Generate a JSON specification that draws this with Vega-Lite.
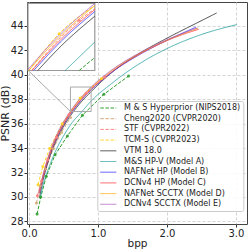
{
  "$schema": "https://vega.github.io/schema/vega-lite/v6.json",
  "width": 220,
  "height": 222,
  "autosize": {"type": "none"},
  "padding": {"left": 27, "top": 2, "right": 2, "bottom": 25},
  "background": "white",
  "config": {
    "font": "DejaVu Sans",
    "view": {"stroke": "#444444", "strokeWidth": 1},
    "axis": {"labelFontSize": 10, "titleFontSize": 11, "labelColor": "#222222", "titleColor": "#222222", "tickColor": "#333333", "domain": false, "tickSize": 3, "labelPadding": 1, "titlePadding": 0, "labelOverlap": false, "gridColor": "#d4d4d4", "gridDash": [3, 2], "titleFontWeight": "normal"},
    "axisX": {"titleFontSize": 10.5},
    "axisY": {"titlePadding": 0, "labelOverlap": false},
    "axisLeft": {"labelOverlap": false}
  },
  "datasets": {
    "curves": [
      {"series": "M & S Hyperprior (NIPS2018)", "bpp": 0.116, "psnr": 28.6},
      {"series": "M & S Hyperprior (NIPS2018)", "bpp": 0.17, "psnr": 30.0},
      {"series": "M & S Hyperprior (NIPS2018)", "bpp": 0.25, "psnr": 31.7},
      {"series": "M & S Hyperprior (NIPS2018)", "bpp": 0.377, "psnr": 33.45},
      {"series": "M & S Hyperprior (NIPS2018)", "bpp": 0.556, "psnr": 35.0},
      {"series": "M & S Hyperprior (NIPS2018)", "bpp": 0.774, "psnr": 36.7},
      {"series": "M & S Hyperprior (NIPS2018)", "bpp": 1.084, "psnr": 38.4},
      {"series": "M & S Hyperprior (NIPS2018)", "bpp": 1.442, "psnr": 39.9},
      {"series": "Cheng2020 (CVPR2020)", "bpp": 0.107, "psnr": 29.5},
      {"series": "Cheng2020 (CVPR2020)", "bpp": 0.16, "psnr": 30.9},
      {"series": "Cheng2020 (CVPR2020)", "bpp": 0.24, "psnr": 32.3},
      {"series": "Cheng2020 (CVPR2020)", "bpp": 0.35, "psnr": 33.95},
      {"series": "Cheng2020 (CVPR2020)", "bpp": 0.47, "psnr": 35.3},
      {"series": "Cheng2020 (CVPR2020)", "bpp": 0.6, "psnr": 36.5},
      {"series": "STF (CVPR2022)", "bpp": 0.12, "psnr": 30.1},
      {"series": "STF (CVPR2022)", "bpp": 0.18, "psnr": 31.3},
      {"series": "STF (CVPR2022)", "bpp": 0.27, "psnr": 33.05},
      {"series": "STF (CVPR2022)", "bpp": 0.4, "psnr": 34.9},
      {"series": "STF (CVPR2022)", "bpp": 0.58, "psnr": 36.75},
      {"series": "STF (CVPR2022)", "bpp": 0.83, "psnr": 38.5},
      {"series": "STF (CVPR2022)", "bpp": 1.1, "psnr": 39.8},
      {"series": "TCM-S (CVPR2023)", "bpp": 0.13, "psnr": 31.0},
      {"series": "TCM-S (CVPR2023)", "bpp": 0.2, "psnr": 32.5},
      {"series": "TCM-S (CVPR2023)", "bpp": 0.3, "psnr": 34.0},
      {"series": "TCM-S (CVPR2023)", "bpp": 0.48, "psnr": 36.0},
      {"series": "TCM-S (CVPR2023)", "bpp": 0.74, "psnr": 38.1},
      {"series": "TCM-S (CVPR2023)", "bpp": 1.05, "psnr": 39.7},
      {"series": "VTM 18.0", "bpp": 0.15, "psnr": 29.9},
      {"series": "VTM 18.0", "bpp": 0.2, "psnr": 31.3},
      {"series": "VTM 18.0", "bpp": 0.3, "psnr": 33.29},
      {"series": "VTM 18.0", "bpp": 0.4, "psnr": 34.69},
      {"series": "VTM 18.0", "bpp": 0.5, "psnr": 35.77},
      {"series": "VTM 18.0", "bpp": 0.6, "psnr": 36.65},
      {"series": "VTM 18.0", "bpp": 0.75, "psnr": 37.74},
      {"series": "VTM 18.0", "bpp": 0.9, "psnr": 38.62},
      {"series": "VTM 18.0", "bpp": 1.2, "psnr": 40.2},
      {"series": "VTM 18.0", "bpp": 1.6, "psnr": 41.75},
      {"series": "VTM 18.0", "bpp": 2.0, "psnr": 43.0},
      {"series": "VTM 18.0", "bpp": 2.4, "psnr": 44.15},
      {"series": "VTM 18.0", "bpp": 2.72, "psnr": 45.06},
      {"series": "M&S HP-V (Model A)", "bpp": 0.16, "psnr": 29.9},
      {"series": "M&S HP-V (Model A)", "bpp": 0.2, "psnr": 30.9},
      {"series": "M&S HP-V (Model A)", "bpp": 0.3, "psnr": 32.6},
      {"series": "M&S HP-V (Model A)", "bpp": 0.4, "psnr": 33.95},
      {"series": "M&S HP-V (Model A)", "bpp": 0.5, "psnr": 35.0},
      {"series": "M&S HP-V (Model A)", "bpp": 0.6, "psnr": 35.9},
      {"series": "M&S HP-V (Model A)", "bpp": 0.767, "psnr": 37.0},
      {"series": "M&S HP-V (Model A)", "bpp": 0.9, "psnr": 37.85},
      {"series": "M&S HP-V (Model A)", "bpp": 1.2, "psnr": 39.3},
      {"series": "M&S HP-V (Model A)", "bpp": 1.437, "psnr": 40.3},
      {"series": "M&S HP-V (Model A)", "bpp": 1.7, "psnr": 41.25},
      {"series": "M&S HP-V (Model A)", "bpp": 2.0, "psnr": 42.15},
      {"series": "M&S HP-V (Model A)", "bpp": 2.5, "psnr": 43.3},
      {"series": "M&S HP-V (Model A)", "bpp": 3.01, "psnr": 44.11},
      {"series": "NAFNet HP (Model B)", "bpp": 0.15, "psnr": 30.3},
      {"series": "NAFNet HP (Model B)", "bpp": 0.2, "psnr": 31.51},
      {"series": "NAFNet HP (Model B)", "bpp": 0.3, "psnr": 33.43},
      {"series": "NAFNet HP (Model B)", "bpp": 0.4, "psnr": 34.83},
      {"series": "NAFNet HP (Model B)", "bpp": 0.5, "psnr": 35.91},
      {"series": "NAFNet HP (Model B)", "bpp": 0.6, "psnr": 36.79},
      {"series": "NAFNet HP (Model B)", "bpp": 0.75, "psnr": 37.88},
      {"series": "NAFNet HP (Model B)", "bpp": 0.9, "psnr": 38.76},
      {"series": "NAFNet HP (Model B)", "bpp": 1.2, "psnr": 40.2},
      {"series": "NAFNet HP (Model B)", "bpp": 1.6, "psnr": 41.65},
      {"series": "NAFNet HP (Model B)", "bpp": 2.0, "psnr": 42.82},
      {"series": "NAFNet HP (Model B)", "bpp": 2.42, "psnr": 43.9},
      {"series": "DCNv4 HP (Model C)", "bpp": 0.15, "psnr": 30.35},
      {"series": "DCNv4 HP (Model C)", "bpp": 0.2, "psnr": 31.57},
      {"series": "DCNv4 HP (Model C)", "bpp": 0.3, "psnr": 33.49},
      {"series": "DCNv4 HP (Model C)", "bpp": 0.4, "psnr": 34.89},
      {"series": "DCNv4 HP (Model C)", "bpp": 0.5, "psnr": 35.97},
      {"series": "DCNv4 HP (Model C)", "bpp": 0.6, "psnr": 36.85},
      {"series": "DCNv4 HP (Model C)", "bpp": 0.75, "psnr": 37.94},
      {"series": "DCNv4 HP (Model C)", "bpp": 0.9, "psnr": 38.82},
      {"series": "DCNv4 HP (Model C)", "bpp": 1.2, "psnr": 40.25},
      {"series": "DCNv4 HP (Model C)", "bpp": 1.6, "psnr": 41.68},
      {"series": "DCNv4 HP (Model C)", "bpp": 2.0, "psnr": 42.8},
      {"series": "DCNv4 HP (Model C)", "bpp": 2.46, "psnr": 43.73},
      {"series": "NAFNet SCCTX (Model D)", "bpp": 0.145, "psnr": 30.3},
      {"series": "NAFNet SCCTX (Model D)", "bpp": 0.2, "psnr": 31.69},
      {"series": "NAFNet SCCTX (Model D)", "bpp": 0.3, "psnr": 33.61},
      {"series": "NAFNet SCCTX (Model D)", "bpp": 0.4, "psnr": 35.01},
      {"series": "NAFNet SCCTX (Model D)", "bpp": 0.5, "psnr": 36.09},
      {"series": "NAFNet SCCTX (Model D)", "bpp": 0.6, "psnr": 36.97},
      {"series": "NAFNet SCCTX (Model D)", "bpp": 0.75, "psnr": 38.06},
      {"series": "NAFNet SCCTX (Model D)", "bpp": 0.9, "psnr": 38.94},
      {"series": "NAFNet SCCTX (Model D)", "bpp": 1.2, "psnr": 40.35},
      {"series": "NAFNet SCCTX (Model D)", "bpp": 1.6, "psnr": 41.75},
      {"series": "NAFNet SCCTX (Model D)", "bpp": 2.0, "psnr": 42.84},
      {"series": "NAFNet SCCTX (Model D)", "bpp": 2.45, "psnr": 43.82},
      {"series": "DCNv4 SCCTX (Model E)", "bpp": 0.145, "psnr": 30.35},
      {"series": "DCNv4 SCCTX (Model E)", "bpp": 0.2, "psnr": 31.75},
      {"series": "DCNv4 SCCTX (Model E)", "bpp": 0.3, "psnr": 33.67},
      {"series": "DCNv4 SCCTX (Model E)", "bpp": 0.4, "psnr": 35.07},
      {"series": "DCNv4 SCCTX (Model E)", "bpp": 0.5, "psnr": 36.15},
      {"series": "DCNv4 SCCTX (Model E)", "bpp": 0.6, "psnr": 37.03},
      {"series": "DCNv4 SCCTX (Model E)", "bpp": 0.75, "psnr": 38.12},
      {"series": "DCNv4 SCCTX (Model E)", "bpp": 0.9, "psnr": 39.0},
      {"series": "DCNv4 SCCTX (Model E)", "bpp": 1.2, "psnr": 40.4},
      {"series": "DCNv4 SCCTX (Model E)", "bpp": 1.6, "psnr": 41.79},
      {"series": "DCNv4 SCCTX (Model E)", "bpp": 2.0, "psnr": 42.87},
      {"series": "DCNv4 SCCTX (Model E)", "bpp": 2.44, "psnr": 43.84}
    ],
    "inset": [
      {"series": "M & S Hyperprior (NIPS2018)", "bpp": 0.83, "psnr": 37.0},
      {"series": "M & S Hyperprior (NIPS2018)", "bpp": 0.9, "psnr": 37.39},
      {"series": "STF (CVPR2022)", "bpp": 0.616, "psnr": 37.0},
      {"series": "STF (CVPR2022)", "bpp": 0.83, "psnr": 38.5},
      {"series": "STF (CVPR2022)", "bpp": 0.9, "psnr": 38.84},
      {"series": "TCM-S (CVPR2023)", "bpp": 0.604, "psnr": 37.0},
      {"series": "TCM-S (CVPR2023)", "bpp": 0.74, "psnr": 38.1},
      {"series": "TCM-S (CVPR2023)", "bpp": 0.9, "psnr": 38.93},
      {"series": "VTM 18.0", "bpp": 0.644, "psnr": 37.0},
      {"series": "VTM 18.0", "bpp": 0.75, "psnr": 37.74},
      {"series": "VTM 18.0", "bpp": 0.9, "psnr": 38.62},
      {"series": "M&S HP-V (Model A)", "bpp": 0.767, "psnr": 37.0},
      {"series": "M&S HP-V (Model A)", "bpp": 0.9, "psnr": 37.85},
      {"series": "NAFNet HP (Model B)", "bpp": 0.626, "psnr": 37.0},
      {"series": "NAFNet HP (Model B)", "bpp": 0.75, "psnr": 37.88},
      {"series": "NAFNet HP (Model B)", "bpp": 0.9, "psnr": 38.76},
      {"series": "DCNv4 HP (Model C)", "bpp": 0.618, "psnr": 37.0},
      {"series": "DCNv4 HP (Model C)", "bpp": 0.75, "psnr": 37.94},
      {"series": "DCNv4 HP (Model C)", "bpp": 0.9, "psnr": 38.82},
      {"series": "NAFNet SCCTX (Model D)", "bpp": 0.603, "psnr": 37.0},
      {"series": "NAFNet SCCTX (Model D)", "bpp": 0.75, "psnr": 38.06},
      {"series": "NAFNet SCCTX (Model D)", "bpp": 0.9, "psnr": 38.94},
      {"series": "DCNv4 SCCTX (Model E)", "bpp": 0.6, "psnr": 37.03},
      {"series": "DCNv4 SCCTX (Model E)", "bpp": 0.75, "psnr": 38.12},
      {"series": "DCNv4 SCCTX (Model E)", "bpp": 0.9, "psnr": 39.0}
    ],
    "insetdots": [
      {"series": "STF (CVPR2022)", "bpp": 0.83, "psnr": 38.5},
      {"series": "TCM-S (CVPR2023)", "bpp": 0.74, "psnr": 38.1}
    ],
    "box": [{"bpp": 0.6, "bpp2": 0.9, "psnr": 37, "psnr2": 39}],
    "link": [{"bpp": -0.0155, "psnr": 40.37, "bpp2": 0.6, "psnr2": 37}]
  },
  "layer": [
    {
      "layer": [
        {
          "data": {"name": "curves"},
          "transform": [{"filter": {"field": "series", "oneOf": ["M & S Hyperprior (NIPS2018)", "Cheng2020 (CVPR2020)", "STF (CVPR2022)", "TCM-S (CVPR2023)"]}}],
          "mark": {"type": "line"},
          "encoding": {
            "x": {"field": "bpp", "type": "quantitative", "scale": {"domain": [-0.03, 3.16], "nice": false, "zero": false}, "axis": {"values": [0, 1, 2, 3], "title": "bpp", "grid": true, "labelOverlap": false, "labelBound": false, "labelFlush": false}},
            "y": {"field": "psnr", "type": "quantitative", "scale": {"domain": [27.79, 45.96], "nice": false, "zero": false}, "axis": {"tickCount": 9, "values": [28, 30, 32, 34, 36, 38, 40, 42, 44], "title": "PSNR (dB)", "grid": true, "labelOverlap": false, "labelSeparation": 0, "labelBound": false, "labelFlush": false}},
            "color": {
              "field": "series", "type": "nominal",
              "scale": {
                "domain": ["M & S Hyperprior (NIPS2018)", "Cheng2020 (CVPR2020)", "STF (CVPR2022)", "TCM-S (CVPR2023)", "VTM 18.0", "M&S HP-V (Model A)", "NAFNet HP (Model B)", "DCNv4 HP (Model C)", "NAFNet SCCTX (Model D)", "DCNv4 SCCTX (Model E)"],
                "range": ["#2e9e2e", "#d2a679", "#ff8080", "#ffd21f", "#333333", "#30a3a3", "#3333ff", "#ff3b3b", "#ffa500", "#aa4fbf"]
              },
              "legend": {"title": null, "orient": "none", "legendX": 70.3, "legendY": 99, "symbolType": "M-1,0H3", "symbolSize": 64, "labelFontSize": 8, "labelOffset": 15.3, "rowPadding": 1.7, "padding": 2.5, "strokeColor": "#cccccc", "fillColor": "rgba(255,255,255,0.85)", "cornerRadius": 2, "labelColor": "#222222", "labelLimit": 300}
            },
            "strokeDash": {
              "field": "series", "type": "nominal",
              "scale": {
                "domain": ["M & S Hyperprior (NIPS2018)", "Cheng2020 (CVPR2020)", "STF (CVPR2022)", "TCM-S (CVPR2023)", "VTM 18.0", "M&S HP-V (Model A)", "NAFNet HP (Model B)", "DCNv4 HP (Model C)", "NAFNet SCCTX (Model D)", "DCNv4 SCCTX (Model E)"],
                "range": [[3.5, 1.6], [3.5, 1.6], [3.5, 1.6], [3.5, 1.6], [1, 0], [1, 0], [1, 0], [1, 0], [1, 0], [1, 0]]
              }
            },
            "strokeWidth": {
              "field": "series", "type": "nominal",
              "scale": {
                "domain": ["M & S Hyperprior (NIPS2018)", "Cheng2020 (CVPR2020)", "STF (CVPR2022)", "TCM-S (CVPR2023)", "VTM 18.0", "M&S HP-V (Model A)", "NAFNet HP (Model B)", "DCNv4 HP (Model C)", "NAFNet SCCTX (Model D)", "DCNv4 SCCTX (Model E)"],
                "range": [1, 1, 1, 1, 1.2, 1.4, 2.5, 1.4, 1.4, 1.4]
              }
            },
            "opacity": {
              "field": "series", "type": "nominal",
              "scale": {
                "domain": ["M & S Hyperprior (NIPS2018)", "Cheng2020 (CVPR2020)", "STF (CVPR2022)", "TCM-S (CVPR2023)", "VTM 18.0", "M&S HP-V (Model A)", "NAFNet HP (Model B)", "DCNv4 HP (Model C)", "NAFNet SCCTX (Model D)", "DCNv4 SCCTX (Model E)"],
                "range": [1, 0.75, 0.75, 0.8, 1, 1, 0.5, 1, 1, 1]
              }
            }
          }
        },
        {
          "data": {"name": "curves"},
          "transform": [{"filter": {"not": {"field": "series", "oneOf": ["M & S Hyperprior (NIPS2018)", "Cheng2020 (CVPR2020)", "STF (CVPR2022)", "TCM-S (CVPR2023)"]}}}],
          "mark": {"type": "line", "interpolate": "monotone"},
          "encoding": {
            "x": {"field": "bpp", "type": "quantitative"},
            "y": {"field": "psnr", "type": "quantitative"},
            "color": {"field": "series", "type": "nominal"},
            "strokeDash": {"field": "series", "type": "nominal"},
            "strokeWidth": {"field": "series", "type": "nominal"},
            "opacity": {"field": "series", "type": "nominal"}
          }
        },
        {
          "data": {"name": "curves"},
          "transform": [{"filter": {"field": "series", "oneOf": ["M & S Hyperprior (NIPS2018)", "Cheng2020 (CVPR2020)", "STF (CVPR2022)", "TCM-S (CVPR2023)"]}}],
          "mark": {"type": "point", "filled": true, "size": 9, "opacity": 0.9},
          "encoding": {
            "x": {"field": "bpp", "type": "quantitative"},
            "y": {"field": "psnr", "type": "quantitative"},
            "color": {"field": "series", "type": "nominal"}
          }
        },
        {
          "data": {"name": "box"},
          "mark": {"type": "rect", "fillOpacity": 0, "stroke": "#a8a8a8", "strokeWidth": 1},
          "encoding": {
            "x": {"field": "bpp", "type": "quantitative"},
            "x2": {"field": "bpp2"},
            "y": {"field": "psnr", "type": "quantitative"},
            "y2": {"field": "psnr2"}
          }
        },
        {
          "data": {"name": "link"},
          "mark": {"type": "rule", "color": "#a8a8a8", "strokeWidth": 1},
          "encoding": {
            "x": {"field": "bpp", "type": "quantitative"},
            "x2": {"field": "bpp2"},
            "y": {"field": "psnr", "type": "quantitative"},
            "y2": {"field": "psnr2"}
          }
        }
      ]
    },
    {
      "layer": [
        {
          "data": {"name": "box"},
          "mark": {"type": "rect", "fill": "white", "stroke": "#999999", "strokeWidth": 1.2},
          "encoding": {
            "x": {"field": "bpp", "type": "quantitative", "scale": {"domain": [0.6, 0.9], "range": [1, 67.8], "nice": false, "zero": false}, "axis": null},
            "x2": {"field": "bpp2"},
            "y": {"field": "psnr", "type": "quantitative", "scale": {"domain": [37, 39], "range": [68.5, 1.5], "nice": false, "zero": false}, "axis": null},
            "y2": {"field": "psnr2"}
          }
        },
        {
          "data": {"name": "inset"},
          "mark": {"type": "line", "interpolate": "monotone"},
          "encoding": {
            "x": {"field": "bpp", "type": "quantitative", "axis": null},
            "y": {"field": "psnr", "type": "quantitative", "axis": null},
            "color": {"field": "series", "type": "nominal"},
            "strokeDash": {"field": "series", "type": "nominal"},
            "strokeWidth": {"field": "series", "type": "nominal"},
            "opacity": {"field": "series", "type": "nominal"}
          }
        },
        {
          "data": {"name": "insetdots"},
          "mark": {"type": "point", "filled": true, "size": 9, "opacity": 0.9},
          "encoding": {
            "x": {"field": "bpp", "type": "quantitative", "axis": null},
            "y": {"field": "psnr", "type": "quantitative", "axis": null},
            "color": {"field": "series", "type": "nominal"}
          }
        }
      ]
    }
  ],
  "resolve": {"scale": {"x": "independent", "y": "independent"}}
}
